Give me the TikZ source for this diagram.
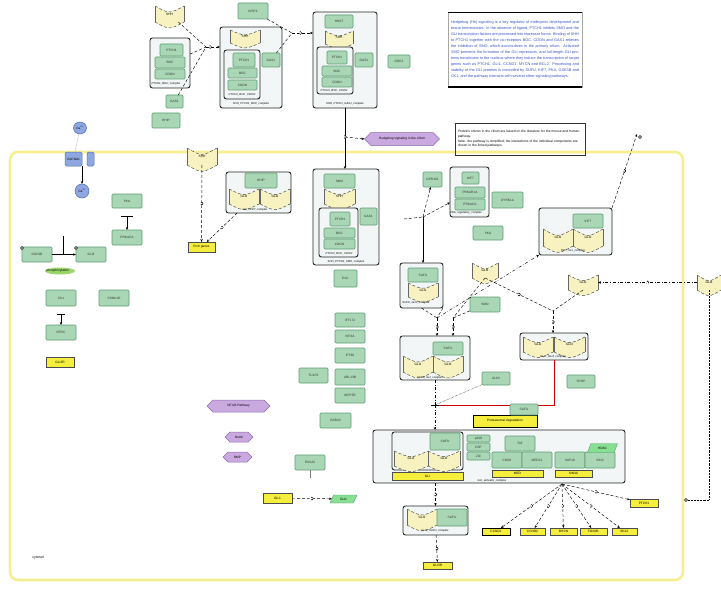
\documentclass[tikz,border=0pt]{standalone}
\usepackage{fontspec}
\setmainfont{Liberation Sans}
\usetikzlibrary{arrows.meta,shapes.misc,shapes.geometric,shapes.symbols}
\definecolor{gfill}{HTML}{A9D7B6}
\definecolor{gdraw}{HTML}{5F9C73}
\definecolor{rnafill}{HTML}{F7F2C0}
\definecolor{labfill}{HTML}{F6EE3C}
\definecolor{pfill}{HTML}{C9A9DF}
\definecolor{pdraw}{HTML}{8E6DB2}
\definecolor{bfill}{HTML}{8FA7E1}
\definecolor{bdraw}{HTML}{5069B2}
\definecolor{compc}{HTML}{F6EF90}
\definecolor{cfill}{HTML}{F2F6F6}
\definecolor{txtblue}{HTML}{3653C2}
\definecolor{cloudc}{HTML}{9BD66B}
\tikzset{
 every node/.style={font=\fontsize{3.2}{3.6}\selectfont, inner sep=0pt, outer sep=0pt},
 gene/.style={draw=gdraw, fill=gfill, rounded corners=1pt, line width=0.6pt, text=black!80},
 chan/.style={draw=bdraw, fill=bfill, rounded corners=1.5pt, line width=0.5pt},
 lab/.style={draw=black!70, fill=labfill, line width=0.4pt},
 labk/.style={draw=black, fill=labfill, line width=0.9pt},
 cplx/.style={draw=black!85, fill=cfill, rounded corners=2.5pt, line width=0.9pt},
 clabel/.style={font=\fontsize{2.8}{3}\selectfont\itshape},
 pw/.style={signal, signal to=west and east, draw=pdraw, fill=pfill, line width=0.5pt},
 ion/.style={ellipse, draw=bdraw, fill=bfill, line width=0.5pt},
 para/.style={trapezium, trapezium left angle=60, trapezium right angle=120, trapezium stretches=true, draw=gdraw, fill=gfill!80!green, line width=0.4pt},
 rnaedge/.style={densely dashed, line width=0.45pt, black!75},
 ia/.style={densely dashed, line width=0.45pt, -{Stealth[length=3pt,width=2.4pt]}},
 ida/.style={dash dot, line width=0.45pt, -{Stealth[length=3pt,width=2.4pt]}},
 il/.style={densely dashed, line width=0.45pt},
 ild/.style={dash dot, line width=0.45pt},
 om/.style={circle, draw, fill=white, inner sep=0pt, minimum size=3pt, line width=0.4pt},
 redl/.style={draw=red!80!black, line width=0.8pt},
}
\newcommand\Bx[7]{%
 \pgfmathsetmacro\Rm{(#3+#5)/2}\pgfmathsetmacro\Rc{(#4+#6)/2}%
 \pgfmathsetmacro\Rw{#5-#3}\pgfmathsetmacro\Rh{#6-#4}%
 \node[#1, minimum width=\Rw pt, minimum height=\Rh pt] (#2) at (\Rm,\Rc) {#7};}
\newcommand\G[6]{\Bx{gene}{#1}{#2}{#3}{#4}{#5}{#6}}
\newcommand\Cx[5]{\Bx{cplx}{#1}{#2}{#3}{#4}{#5}{}}
\newcommand\Lb[6]{\Bx{lab}{#1}{#2}{#3}{#4}{#5}{#6}}
\newcommand\Y[6]{%
 \pgfmathsetmacro\Rm{(#2+#4)/2}\pgfmathsetmacro\Rc{(#3+#5)/2}%
 \pgfmathsetmacro\Rtd{#3+0.5*(#5-#3)}\pgfmathsetmacro\Rbd{#5+0.5*(#5-#3)}%
 \pgfmathsetmacro\Rw{#4-#2}\pgfmathsetmacro\Rh{#5-#3}%
 \fill[rnafill] (#2,#3) .. controls (\Rm,\Rtd) .. (#4,#3) -- (#4,#5) .. controls (\Rm,\Rbd) .. (#2,#5) -- cycle;
 \draw[rnaedge] (#2,#3) .. controls (\Rm,\Rtd) .. (#4,#3);
 \draw[rnaedge] (#2,#5) .. controls (\Rm,\Rbd) .. (#4,#5);
 \draw[line width=0.4pt, black!60] (#2,#3) -- (#2,#5) (#4,#3) -- (#4,#5);
 \node[minimum width=\Rw pt, minimum height=\Rh pt] (#1) at (\Rm,\Rc) {#6};}
\begin{document}
\begin{tikzpicture}[x=1pt,y=-1pt]
\useasboundingbox (0,0) rectangle (721,594);
% cell compartment
\node[draw=compc, line width=2.6pt, rounded corners=8pt, minimum width=673pt, minimum height=428pt] (cell) at (346.5,366) {};
\node[font=\fontsize{3.6}{4}\selectfont] (cellLab) at (38,558) {cytosol};

% description boxes
\node[draw=black!35, line width=0.3pt, text width=128pt, minimum height=75pt, inner sep=3pt, align=justify, text=txtblue, font=\fontsize{3.8}{6}\selectfont] (desc) at (515,49.5) {Hedgehog (Hh) signaling is a key regulator of embryonic development and tissue homeostasis. In the absence of ligand, PTCH1 inhibits SMO and the GLI transcription factors are processed into repressor forms. Binding of SHH to PTCH1 together with the co-receptors BOC, CDON and GAS1 relieves the inhibition of SMO, which accumulates in the primary cilium. Activated SMO prevents the formation of the GLI repressors, and full-length GLI proteins translocate to the nucleus where they induce the transcription of target genes such as PTCH1, GLI1, CCND1, MYCN and BCL2. Processing and stability of the GLI proteins is controlled by SUFU, KIF7, PKA, GSK3B and CK1, and the pathway interacts with several other signaling pathways.};
\draw[line width=0.9pt] (desc.north west) -- (desc.north east);
\draw[line width=1.1pt] (desc.south west) -- (desc.south east);
\node[draw=black!80, line width=0.5pt, text width=124pt, minimum height=32pt, inner sep=3pt, align=left, anchor=north west, font=\fontsize{3.3}{4.4}\selectfont] (note) at (455,123) {Proteins shown in the cilium are based on the literature for the mouse and human pathway.\\[1pt]
Note: the pathway is simplified; the interactions of the individual components are shown in the linked pathways.};

% top section
\Y{shhA}{155}{6}{184}{22}{SHH}
\Cx{cxL}{150}{38}{190}{88}
\G{ptchL}{160}{44}{183}{56}{PTCH1}
\G{bocL}{155}{57}{185}{68}{BOC}
\G{cdonL}{155}{69}{185}{79}{CDON}
\node[clabel] (cxLl) at (166,84) {PTCH1\_BOC\_complex};
\G{gasA}{166}{95}{183}{108}{GAS1}
\G{hhipA}{152}{113}{180}{128}{HHIP}
\G{disp}{238}{3}{268}{19}{DISP1}

\Cx{cxM}{220}{27}{282}{108}
\Y{shhM}{230}{30}{260}{43}{SHH}
\Cx{cxMi}{224}{50}{260}{99}
\G{ptchM}{233}{53}{255}{67}{PTCH1}
\G{bocM}{228}{68}{257}{78}{BOC}
\G{cdonM}{228}{80}{257}{90}{CDON}
\node[clabel] (cxMil) at (242,95) {PTCH1\_BOC\_CDON};
\G{gasM}{262}{53}{280}{67}{GAS1}
\node[clabel] (cxMl) at (251,104) {SHH\_PTCH1\_BOC\_complex};

\Cx{cxR}{313}{12}{377}{108}
\G{hhatR}{325}{15}{353}{28}{HHAT}
\Y{shhR}{325}{31}{353}{44}{SHH}
\Cx{cxRi}{317}{47}{353}{94}
\G{ptchR}{327}{51}{347}{64}{PTCH1}
\G{bocR}{322}{66}{352}{76}{BOC}
\G{cdonR}{322}{77}{352}{87}{CDON}
\node[clabel] (cxRil) at (334,90.5) {PTCH1\_BOC\_CDON};
\G{gasR}{355}{53}{373}{67}{GAS1}
\node[clabel] (cxRl) at (345,104) {SHH\_PTCH1\_GAS1\_complex};
\G{grk}{388}{55}{410}{68}{GRK2}

\coordinate (jL) at (206,47);
\draw[il] (cxL) -- (jL);
\draw[il] (shhA) -- (jL);
\draw[il] (gasA) -- (jL);
\draw[ia] (jL) -- node[om,pos=0.3]{} (cxM.west |- jL);
\coordinate (jM) at (292,33);
\draw[il] (disp) -- (jM);
\draw[il] (gasM) -- (jM);
\draw[ia] (jM) -- node[om,pos=0.4]{} (cxR.west |- jM);
\node[pw, minimum width=75pt, minimum height=13pt] (pw1) at (402,139) {Hedgehog signaling in the cilium};
\coordinate (jV) at (345,137);
\draw[ia, solid] (cxR.south) -- (jV |- 0,169);
\draw[ia] (jV) node[om]{} -- (pw1.west);

% left section
\node[ion, minimum width=13pt, minimum height=12pt] (caT) at (80,128) {Ca\textsuperscript{2+}};
\node[chan, minimum width=17pt, minimum height=14pt] (cav) at (73.5,159) {CACNA1};
\node[chan, minimum width=7pt, minimum height=14pt] (cav2) at (90.5,159) {};
\node[ion, minimum size=14pt] (caB) at (82,191) {Ca\textsuperscript{2+}};
\draw[black!30, line width=0.3pt] (caT) -- (cav);
\draw[ia, solid] (cav.south -| caB) -- (caB);
\G{pka}{112}{194}{142}{208}{PKA}
\G{prk}{112}{230}{142}{245}{PRKACA}
\coordinate (pkb) at (127,216);
\draw[line width=0.6pt] (121,216) -- (133,216);
\draw[ia, solid] (pkb) -- (prk);
\G{gsk}{22}{247}{52}{262}{GSK3B}
\G{gli3a}{76}{247}{106}{262}{GLI3}
\node[om] (st1) at (22,248) {};
\node[om] (st2) at (76,248) {};
\coordinate (jg) at (63,254.5);
\coordinate (jgt) at (63,236);
\draw[line width=0.5pt] (gsk) -- (jg);
\draw[line width=0.5pt] (jgt) -- (jg);
\draw[line width=0.5pt, -{Stealth[length=3pt,width=2.4pt]}] (jg) -- (gli3a);
\node[ellipse, fill=cloudc, minimum width=30pt, minimum height=7pt] (cloud) at (60,271) {};
\node (cloudt) at (58,271) {phosphorylation};
\G{ck1}{46}{290}{76}{306}{CK1}
\G{csn}{99}{290}{129}{306}{CSNK1D}
\G{btrc}{46}{325}{76}{340}{BTRC}
\coordinate (btb) at (61,314);
\draw[line width=0.6pt] (57,314) -- (65,314);
\draw[ia, solid] (btb) -- (btrc);
\Lb{glir}{46}{357}{74}{367}{GLI3R}

% middle-left
\Y{shhC}{187}{148}{217}{165}{SHH}
\Lb{labC}{188}{242}{215}{252}{Ptch genes}
\draw[ia] (shhC) -- node[om]{} (labC);
\Cx{cxS}{226}{172}{291}{213}
\G{hhipS}{245}{173}{277}{188}{HHIP}
\Y{gli1S}{229}{189}{259}{204}{GLI1}
\Y{gli2S}{260}{189}{290}{204}{GLI2}
\node[clabel] (cxSl) at (255,210) {GLI\_HHIP\_complex};
\draw[ia] (cxS) -- node[om]{} (labC);

% big central complex
\Cx{cxB}{313}{169}{379}{265}
\G{smoB}{324}{174}{355}{188}{SMO}
\Y{shhB}{324}{189}{355}{204}{SHH}
\Cx{cxBi}{319}{208}{358}{257}
\G{ptchB}{330}{212}{350}{226}{PTCH1}
\G{bocB}{324}{228}{355}{238}{BOC}
\G{cdonB}{324}{239}{355}{249}{CDON}
\node[clabel] (cxBil) at (339,253.5) {PTCH1\_BOC\_CDON};
\G{gasB}{360}{208}{377}{225}{GAS1}
\node[clabel] (cxBl) at (346,261.5) {SHH\_PTCH1\_SMO\_complex};
\G{evc}{334}{270}{357}{287}{EVC}

\G{c1}{335}{313}{365}{327}{IFT172}
\G{c2}{335}{330}{365}{343}{KIF3A}
\G{c3}{335}{348}{365}{363}{IFT88}
\G{c4}{335}{369}{365}{385}{ARL13B}
\G{c5}{335}{388}{365}{403}{INPP5E}
\G{c6}{299}{368}{328}{383}{TULP3}
\G{c7}{320}{413}{351}{428}{RAB23}
\G{c8}{295}{455}{325}{470}{FOXA2}
\coordinate (c8e) at (310,478);
\draw[line width=0.3pt, black!50] (c8) -- (c8e);
\node[pw, minimum width=63pt, minimum height=12pt] (pw2) at (238.5,406) {NF-kB Pathway};
\node[pw, minimum width=28pt, minimum height=10pt] (pw3) at (239,437) {Notch};
\node[pw, minimum width=29pt, minimum height=10pt] (pw4) at (237.5,457) {BMP};
\Lb{lab2}{263}{493}{292}{503}{Gli-1}
\node[para, minimum width=27pt, minimum height=8pt] (paraL) at (343.5,499) {GLI1};
\draw[ia] (lab2) -- node[om]{} (paraL);

% right middle
\G{gpr}{423}{172}{442}{187}{GPR161}
\Cx{cxT}{450}{167}{489}{217}
\G{kifT}{462}{172}{479}{184}{KIF7}
\G{prT1}{455}{187}{485}{198}{PRKAR1A}
\G{prT2}{455}{199}{485}{210}{PRKACA}
\node[clabel] (cxTl) at (466,213) {PKA\_regulatory\_complex};
\G{kif7}{492}{192}{523}{208}{DYRK1A}
\G{pkaR}{473}{226}{503}{240}{PKA}
\coordinate (eS) at (404,219);
\coordinate (jE) at (423,217);
\draw[il] (eS) -- (jE);
\draw[ia] (jE) -- (gpr);
\draw[ia] (jE) -- (cxT);
\draw[ia, solid] (jE) -- (jE |- 0,263);

\Cx{cxU}{400}{263}{443}{308}
\G{sufuU}{408}{268}{438}{282}{SUFU}
\Y{gliU}{408}{283}{438}{297}{GLI1}
\node[clabel] (cxUl) at (416,303) {SUFU\_GLI1\_complex};
\Y{yJ}{472}{263}{498}{278}{GLI3}
\G{smoG}{470}{297}{500}{312}{SMO}

\Cx{cxV}{539}{208}{612}{255}
\G{kifV}{573}{214}{603}{228}{KIF7}
\Y{yV1}{543}{229}{573}{246}{GLI2}
\Y{yV2}{573}{229}{603}{246}{GLI3}
\node[clabel] (cxVl) at (573,251) {KIF7\_GLI\_complex};
\coordinate (topT) at (637,134);
\draw[ia] (cxV.north east) -- node[om]{} (topT);
\node[om] (topm) at (640,137) {};

\Y{yK}{568}{275}{598}{290}{GLI2}
\Y{yFar}{697}{275}{721}{290}{GLI3}
\draw[ida] (yFar) -- node[om]{} (yK);
\coordinate (fr1) at (709,500);
\coordinate (fr2) at (688,500);
\draw[densely dotted, line width=0.45pt] (yFar.south) -- (fr1) -- (fr2);
\node[om] (frm) at (686,500) {};

\coordinate (P1) at (437,318);
\coordinate (P2) at (453,318);
\coordinate (P3) at (553,311);
\Cx{cxW}{400}{336}{470}{380}
\G{sufuW}{433}{342}{463}{355}{SUFU}
\Y{yW1}{403}{356}{433}{372}{GLI1}
\Y{yW2}{433}{356}{463}{372}{GLI3}
\node[clabel] (cxWl) at (430,377.5) {SUFU\_GLI\_complex};
\G{ulk}{482}{372}{510}{385}{ULK3}
\G{spop}{567}{375}{595}{388}{SPOP}
\Cx{cxX}{520}{333}{588}{360}
\Y{yX1}{523}{337}{553}{352}{GLI2}
\Y{yX2}{554}{337}{585}{352}{GLI3}
\node[clabel] (cxXl) at (553,357) {GLI2\_GLI3\_complex};

\draw[il] (cxU.south) -- (P1);
\draw[il] (cxU.south east) -- (P1);
\draw[ia] (P1) -- node[om]{} (P1 |- 0,336);
\draw[il] (yJ.south) -- (P2);
\draw[il] (smoG) -- (P2);
\draw[ia] (P2) -- node[om]{} (P2 |- 0,336);
\draw[il] (yJ.south) -- node[om]{} (P3);
\draw[il] (yK.south) -- (P3);
\draw[ia] (P3) -- node[om]{} (P3 |- cxX.north);
\draw[ida] (P1) -- (cxV.south west);

\coordinate (rr) at (554,405);
\coordinate (jG) at (435,405);
\draw[redl] (cxX.south) -- (rr) -- (jG);
\draw[ild] (cxW.south) -- (jG);
\draw[densely dotted, line width=0.45pt] (ulk) -- (jG);
\draw[line width=0.8pt] (431,405) -- (439,405);
\draw[ida] (jG) -- (jG |- 0,430);
\Bx{labk}{labN}{473}{415}{537}{427}{Proteasomal degradation}
\G{gN}{510}{404}{538}{415}{SUFU}

% bottom complex
\Cx{cxBig}{373}{430}{625}{483}
\Cx{cxZ}{392}{432}{463}{470}
\G{sufuZ}{430}{433}{460}{450}{SUFU}
\Y{yZ1}{394}{451}{428}{466}{GLI1}
\Y{yZ2}{428}{451}{460}{466}{GLI2}
\Lb{lZ}{392}{472}{463}{480}{GLI}
\G{s1}{467}{435}{490}{442}{p300}
\G{s2}{467}{443}{490}{451}{CBP}
\G{s3}{467}{452}{490}{460}{ZIC}
\G{gTa}{505}{436}{535}{451}{TAF}
\G{g1a}{492}{452}{522}{468}{CDK8}
\G{g1b}{522}{452}{552}{468}{MED12}
\Lb{lG1}{492}{470}{543}{477}{MED}
\G{g2a}{555}{452}{585}{468}{SAP18}
\G{g2b}{585}{452}{615}{468}{SIN3}
\node[para, minimum width=30pt, minimum height=9pt] (para2) at (602.5,448) {HDAC};
\Lb{lG2}{555}{470}{592}{477}{SIN3A}
\node[clabel] (cxBigl) at (492,481) {GLI\_activator\_complex};

\Cx{cxBot}{403}{506}{468}{535}
\Y{yBot}{407}{509}{437}{525}{GLI3}
\G{gBot}{437}{509}{467}{526}{SUFU}
\node[clabel] (cxBotl) at (435,531) {GLI3\_SUFU\_complex};
\Lb{lBot}{423}{562}{452}{569}{GLI3R}
\draw[ia] (cxBig.south -| cxBot) -- node[om]{} (cxBot);
\draw[ia] (cxBot) -- node[om]{} (lBot);

\coordinate (fo) at (562,484);
\Bx{labk}{tg1}{482}{528}{510}{535}{CCND1}
\Lb{tg2}{520}{528}{545}{535}{CCND2}
\Lb{tg3}{550}{528}{577}{535}{MYCN}
\Lb{tg4}{580}{528}{607}{535}{FOXM1}
\Lb{tg5}{612}{528}{637}{535}{BCL2}
\Lb{tg6}{630}{499}{658}{507}{PTCH1}
\draw[ia] (fo) -- node[om]{} (tg1);
\draw[ia] (fo) -- node[om]{} (tg2);
\draw[ia] (fo) -- node[om]{} (tg3);
\draw[ia] (fo) -- node[om]{} (tg4);
\draw[ia] (fo) -- node[om]{} (tg5);
\draw[ia] (fo) -- node[om]{} (tg6);
\end{tikzpicture}
\end{document}
